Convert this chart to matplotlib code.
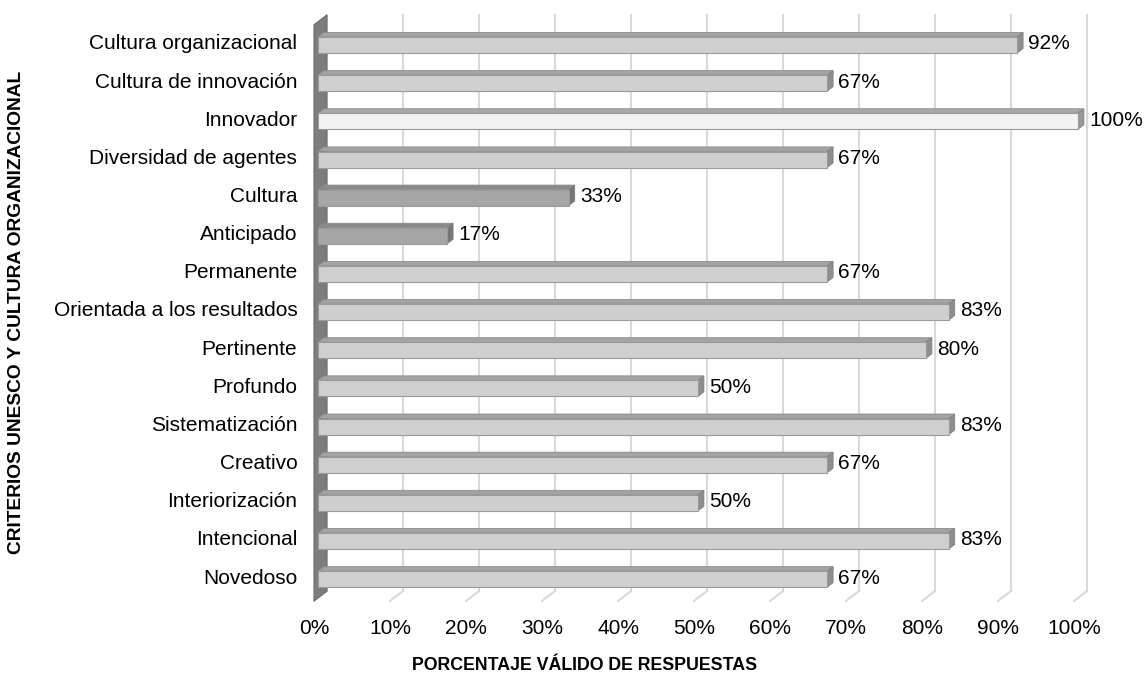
import matplotlib.pyplot as plt
from matplotlib.patches import Polygon, Rectangle

plt.rcParams['font.family'] = ['Liberation Sans', 'DejaVu Sans']

# categories listed bottom to top
categories = ['Novedoso', 'Intencional', 'Interiorización', 'Creativo',
              'Sistematización', 'Profundo', 'Pertinente',
              'Orientada a los resultados', 'Permanente', 'Anticipado',
              'Cultura', 'Diversidad de agentes', 'Innovador',
              'Cultura de innovación', 'Cultura organizacional']
values = [67, 83, 50, 67, 83, 50, 80, 83, 67, 17, 33, 67, 100, 67, 92]
labels = ['67%', '83%', '50%', '67%', '83%', '50%', '80%', '83%', '67%',
          '17%', '33%', '67%', '100%', '67%', '92%']
ticks = list(range(0, 101, 10))

# colour schemes (front, top, side)
normal = ('#cfcfcf', '#a3a3a3', '#8e8e8e')
light = ('#f3f3f3', '#a8a8a8', '#999999')
dark = ('#a6a6a6', '#8a8a8a', '#767676')
styles = {'Innovador': light, 'Cultura': dark, 'Anticipado': dark}

fig = plt.figure(figsize=(11.47, 6.77), dpi=100)
ax = fig.add_axes([314 / 1147, 1 - 601 / 677, 760 / 1147, 580 / 677])
ax.set_xlim(0, 100)
ax.set_ylim(-0.6, 14.6)
ax.axis('off')

# 3d geometry (data units)
wdx, wdy = 1.7, 0.26      # wall / grid depth
bdx, bdy = 0.8, 0.12      # bar depth
x0 = 0.5                  # bar front start
h = 0.42                  # bar front height
y_bot = -0.6

# back gridlines and floor diagonals
for t in ticks:
    ax.plot([t + wdx, t + wdx], [y_bot + wdy, 14.76], color='#d9d9d9',
            lw=1.5, zorder=1, clip_on=False)
    ax.plot([t, t + wdx], [y_bot, y_bot + wdy], color='#d9d9d9',
            lw=1.5, zorder=1, clip_on=False)

# left wall
ax.add_patch(Polygon([(0, y_bot), (wdx, y_bot + wdy), (wdx, 14.76),
                      (0, 14.5)], closed=True, facecolor='#7d7d7d',
                     edgecolor='#6a6a6a', lw=0.8, zorder=2, clip_on=False))

for i, (cat, v, lab) in enumerate(zip(categories, values, labels)):
    front, top, side = styles.get(cat, normal)
    yb = i - 0.03 - h / 2
    yt = yb + h
    xe = x0 + v
    ax.add_patch(Polygon([(x0, yt), (xe, yt), (xe + bdx, yt + bdy),
                          (x0 + bdx, yt + bdy)], closed=True,
                         facecolor=top, edgecolor='#8c8c8c', lw=0.6,
                         zorder=3, clip_on=False))
    ax.add_patch(Polygon([(xe, yb), (xe, yt), (xe + bdx, yt + bdy),
                          (xe + bdx, yb + bdy)], closed=True,
                         facecolor=side, edgecolor='#7f7f7f', lw=0.6,
                         zorder=3, clip_on=False))
    ax.add_patch(Rectangle((x0, yb), v, h, facecolor=front,
                           edgecolor='#9a9a9a', lw=0.8, zorder=4,
                           clip_on=False))
    ax.text(xe + bdx + 0.7, i, lab, ha='left', va='center', fontsize=15,
            color='#000000', clip_on=False)
    ax.text(-2.2, i, cat, ha='right', va='center', fontsize=15,
            color='#000000')

for t in ticks:
    ax.text(t, -1.32, f'{t}%', ha='center', va='center', fontsize=15)

fig.text(585 / 1147, 1 - 666 / 677, 'PORCENTAJE VÁLIDO DE RESPUESTAS',
         ha='center', va='center', fontsize=12.8, fontweight='bold')
fig.text(17 / 1147, 1 - 312 / 677, 'CRITERIOS UNESCO Y CULTURA ORGANIZACIONAL',
         ha='center', va='center', rotation=90, fontsize=13.8,
         fontweight='bold')

fig.savefig('out.png', dpi=100)
